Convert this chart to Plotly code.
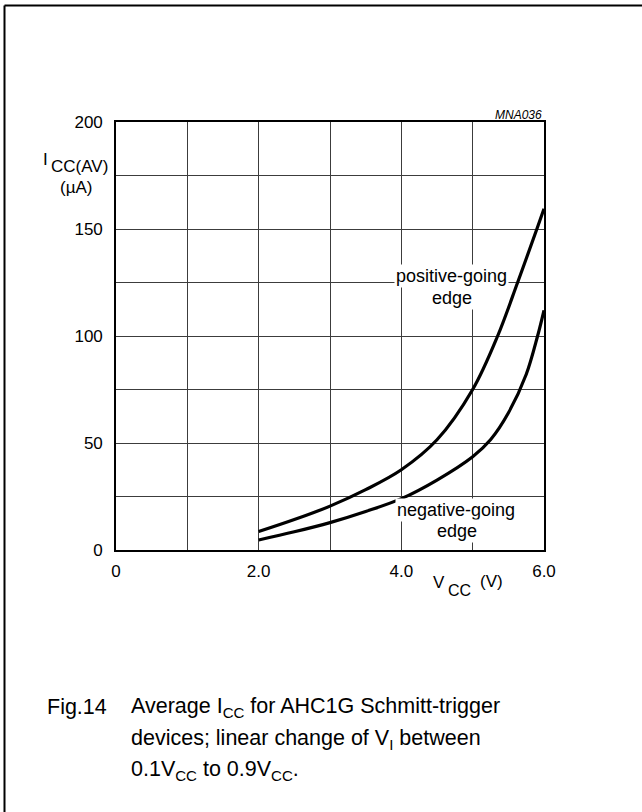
import plotly.graph_objects as go

# ---- data ----
vcc_pos = [2.0, 2.5, 3.0, 3.5, 4.0, 4.5, 5.0, 5.35, 5.63, 5.9, 6.0]
icc_pos = [8.6, 14.2, 20.5, 28.2, 37.5, 51.5, 75.0, 100.0, 125.0, 150.0, 159.5]

vcc_neg = [2.0, 2.5, 3.0, 3.5, 4.0, 4.5, 5.0, 5.25, 5.5, 5.75, 5.91, 6.0]
icc_neg = [4.7, 8.5, 12.8, 18.0, 24.0, 32.7, 43.6, 51.5, 64.0, 82.0, 100.0, 112.0]

x_tickvals = [0, 2, 4, 6]
x_ticktext = ["0", "2.0", "4.0", "6.0"]
y_tickvals = [0, 50, 100, 150, 200]
y_ticktext = ["0", "50", "100", "150", "200"]

FONT = "Liberation Sans, Arial, Helvetica, sans-serif"
W, H = 642, 812
L, R, T, B = 116, 98, 122, 262
PW, PH = W - L - R, H - T - B


def px(x):
    return (x - L) / PW


def py(y):
    return (H - B - y) / PH


fig = go.Figure()
for xs, ys in ((vcc_pos, icc_pos), (vcc_neg, icc_neg)):
    fig.add_trace(go.Scatter(x=xs, y=ys, mode="lines",
                             line=dict(color="black", width=3.2, shape="spline", smoothing=1.0),
                             showlegend=False, hoverinfo="skip"))

GRID = "#3c3c3c"
axis_common = dict(showgrid=True, gridcolor=GRID, gridwidth=1.3,
                   showline=True, linecolor="black", linewidth=1.6, mirror=True,
                   zeroline=False, ticks="", fixedrange=True,
                   tickfont=dict(family=FONT, size=17, color="black"))

fig.update_xaxes(range=[0, 6], tickmode="array", tickvals=x_tickvals, ticktext=x_ticktext,
                 ticklabelstandoff=5,
                 minor=dict(dtick=1, tick0=0, showgrid=True, gridcolor=GRID, gridwidth=1.3, ticks=""),
                 **axis_common)
fig.update_yaxes(range=[0, 200], tickmode="array", tickvals=y_tickvals, ticktext=y_ticktext,
                 ticklabelstandoff=8,
                 minor=dict(dtick=25, tick0=0, showgrid=True, gridcolor=GRID, gridwidth=1.3, ticks=""),
                 **axis_common)

ann = []


def add_text(text, x, y, size, xanchor="left", yanchor="middle", bg=None, pad=0):
    d = dict(text=text, x=px(x), y=py(y), xref="paper", yref="paper",
             xanchor=xanchor, yanchor=yanchor, showarrow=False,
             font=dict(family=FONT, size=size, color="black"), borderpad=pad)
    if bg:
        d["bgcolor"] = bg
    ann.append(d)


# y-axis title
add_text("I", 48.5, 160, 17, xanchor="right")
add_text("CC(AV)", 109, 166, 17, xanchor="right")
add_text("(\u00b5A)", 93, 187, 17, xanchor="right")

# x-axis title
add_text("V", 432, 582, 17)
add_text("CC", 447, 590, 16)
add_text("(V)", 479, 581, 17)

# figure code
add_text("<i>MNA036</i>", 543, 115, 12, xanchor="right")

# curve labels with white background per line
add_text("positive-going", 451.5, 276, 18, xanchor="center", bg="white", pad=1)
add_text("edge", 452, 298, 18, xanchor="center", bg="white", pad=1)
add_text("negative-going", 456, 510, 18, xanchor="center", bg="white", pad=1)
add_text("edge", 456.5, 531, 18, xanchor="center", bg="white", pad=1)

# caption
add_text("Fig.14", 46, 707, 21.5)
add_text("Average I<sub>CC</sub> for AHC1G Schmitt-trigger", 130, 707, 21.5)
add_text("devices; linear change of V<sub>I</sub> between", 130, 739, 21.5)
add_text("0.1V<sub>CC</sub> to 0.9V<sub>CC</sub>.", 130, 771, 21.5)

shapes = [
    dict(type="line", xref="paper", yref="paper", x0=px(4.5), x1=px(4.5), y0=py(5.5), y1=py(830),
         line=dict(color="black", width=2)),
    dict(type="line", xref="paper", yref="paper", x0=px(4.5), x1=px(660), y0=py(5.5), y1=py(5.5),
         line=dict(color="black", width=2)),
]

fig.update_layout(width=W, height=H, autosize=False,
                  margin=dict(l=L, r=R, t=T, b=B, pad=0),
                  paper_bgcolor="white", plot_bgcolor="white",
                  annotations=ann, shapes=shapes, showlegend=False)

fig.write_html("out.html", config={"displayModeBar": False},
               post_script="document.body.style.margin='0';document.body.style.padding='0';"
                           "document.body.style.overflow='hidden';")
